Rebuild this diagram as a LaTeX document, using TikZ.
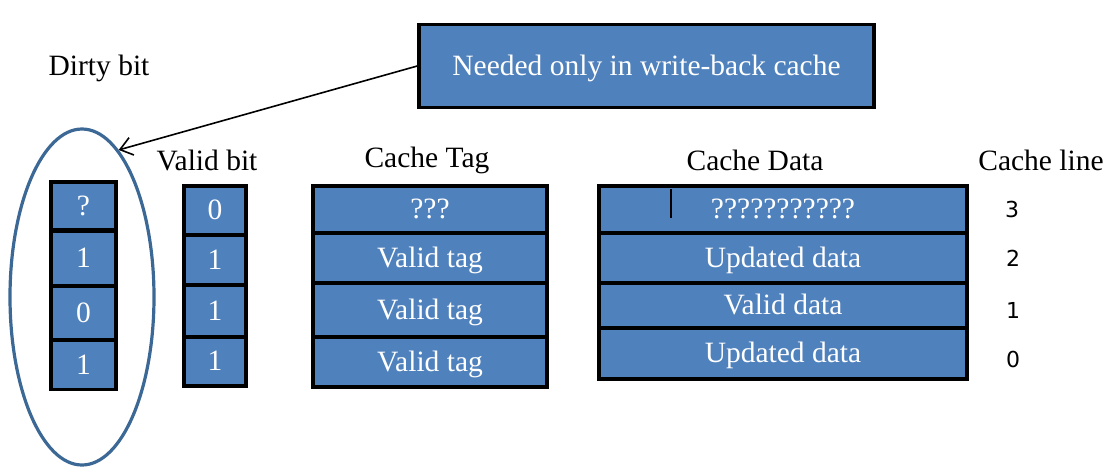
\documentclass[tikz,border=0pt]{standalone}
\usepackage{fontspec}
\setmainfont{Liberation Serif}
\newfontfamily\numfont{DejaVu Sans}
\usetikzlibrary{shapes.geometric,arrows.meta}
\definecolor{cellblue}{RGB}{79,129,189}
\definecolor{ringblue}{RGB}{60,104,150}
\begin{document}
\begin{tikzpicture}[x=1pt,y=-1pt,
  cell/.style={draw=black, line width=3.5pt, fill=cellblue, text=white,
    inner sep=0pt, text height=18pt, text depth=0pt,
    font=\fontsize{29.5}{31}\selectfont},
  heading/.style={font=\fontsize{29.5}{31}\selectfont, text=black, inner sep=0pt},
  linenum/.style={font=\numfont\fontsize{22}{24}\selectfont, inner sep=0pt}]
\useasboundingbox (0,0) rectangle (1113,472);

% column headings
\node[heading] (hdirty) at (99,68)   {Dirty bit};
\node[heading] (hvalid) at (207,160) {Valid bit};
\node[heading] (htag)   at (427,160) {Cache Tag};
\node[heading] (hdata)  at (755,160) {Cache Data};
\node[heading] (hline)  at (1041,160) {Cache line};

% dirty bits
\node[cell, minimum width=65, minimum height=48] (d3) at (83.5,206)   {?};
\node[cell, minimum width=65, minimum height=55] (d2) at (83.5,258.5) {1};
\node[cell, minimum width=65, minimum height=53] (d1) at (83.5,313)   {0};
\node[cell, minimum width=65, minimum height=49] (d0) at (83.5,365)   {1};

% valid bits
\node[cell, minimum width=62, minimum height=49] (v3) at (215,210.5) {0};
\node[cell, minimum width=62, minimum height=50] (v2) at (215,260)   {1};
\node[cell, minimum width=62, minimum height=52] (v1) at (215,311)   {1};
\node[cell, minimum width=62, minimum height=49] (v0) at (215,361.5) {1};

% tags
\node[cell, minimum width=234, minimum height=47] (t3) at (430,209.5) {???};
\node[cell, minimum width=234, minimum height=50] (t2) at (430,258)   {Valid tag};
\node[cell, minimum width=234, minimum height=54] (t1) at (430,310)   {Valid tag};
\node[cell, minimum width=234, minimum height=50] (t0) at (430,362)   {Valid tag};

% data
\node[cell, minimum width=368, minimum height=47] (c3) at (783,209.5) {???????????};
\node[cell, minimum width=368, minimum height=50] (c2) at (783,258)   {Updated data};
\node[cell, minimum width=368, minimum height=45] (c1) at (783,305.5) {Valid data};
\node[cell, minimum width=368, minimum height=51] (c0) at (783,353.5) {Updated data};
\draw[line width=1.5pt] (671,189) -- (671,218);

% line numbers
\node[linenum] (n3) at (1012,209) {3};
\node[linenum] (n2) at (1013,258) {2};
\node[linenum] (n1) at (1013,310) {1};
\node[linenum] (n0) at (1013,359) {0};

% ring round the dirty bits and the note pointing at it
\node[ellipse, draw=ringblue, line width=3.2pt, minimum width=144, minimum height=336,
  inner sep=0pt] (ring) at (82,297) {};
\node[cell, minimum width=455, minimum height=83] (note) at (646.5,66)
  {Needed only in write-back cache};
\draw[line width=1.6pt, -{Straight Barb[length=12pt,width=18pt,line width=1.6pt]}]
  (note.west) -- (ring.76);
\end{tikzpicture}
\end{document}
